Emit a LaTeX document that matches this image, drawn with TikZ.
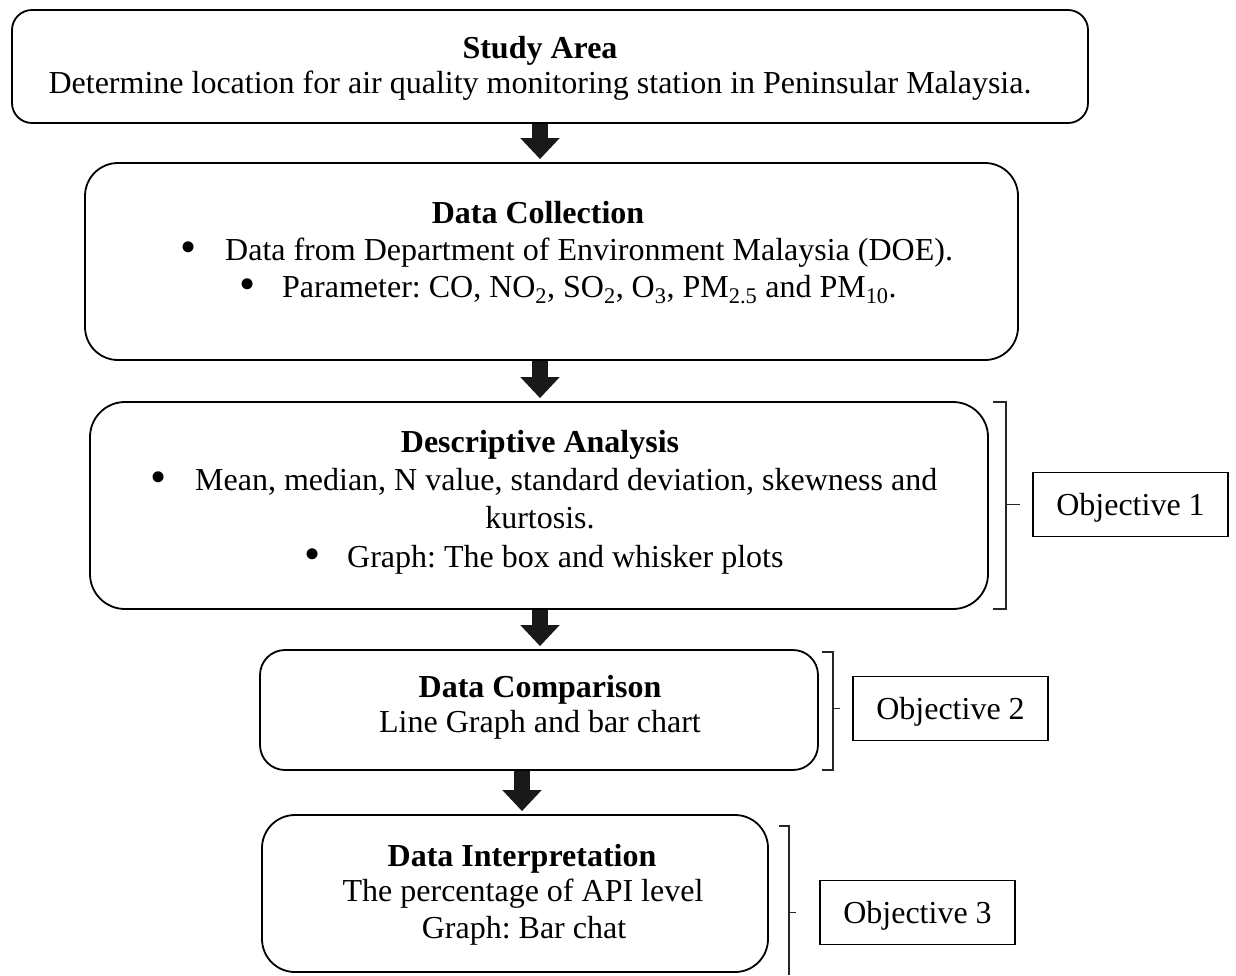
\documentclass[tikz,border=0pt]{standalone}
\usepackage{fontspec}
\setmainfont{Liberation Serif}
\usetikzlibrary{arrows.meta}
\frenchspacing
\newcommand{\bigbul}{\raisebox{-2.5pt}{\fontsize{46}{0}\selectfont\textbullet}}

\begin{document}
\begin{tikzpicture}[
  x=1pt, y=-1pt,
  box/.style   ={draw=black, line width=1.8pt, inner sep=0pt},
  objbox/.style={draw=black, line width=1.8pt, inner sep=0pt,
                 minimum width=195pt, minimum height=64pt},
  ttl/.style   ={anchor=base, inner sep=0pt, font=\fontsize{32}{38}\selectfont\bfseries},
  txt/.style   ={anchor=base, inner sep=0pt, font=\fontsize{32}{38}\selectfont},
  bul/.style   ={anchor=base west, inner sep=0pt, font=\fontsize{32}{38}\selectfont},
  bigarrow/.style={-{Triangle[width=38pt,length=21pt]}, line width=16pt, black!90,
                 shorten >=3pt},
  brk/.style   ={line width=1.1pt, black!85},
]
\useasboundingbox (0,0) rectangle (1236,975);

% ---------------- the five stages ----------------
\node[box, rounded corners=20pt, minimum width=1076pt, minimum height=113pt] (area)    at (550,66.5) {};
\node[box, rounded corners=33pt, minimum width=933pt,  minimum height=197pt] (collect) at (551.5,261.5) {};
\node[box, rounded corners=35pt, minimum width=898pt,  minimum height=207pt] (descr)   at (539,505.5) {};
\node[box, rounded corners=25pt, minimum width=558pt,  minimum height=120pt] (compare) at (539,710) {};
\node[box, rounded corners=33pt, minimum width=506pt,  minimum height=157pt] (interp)  at (515,893.5) {};

% ---------------- texts in the stages ----------------
\node[ttl] (areat) at (540,58) {Study Area};
\node[txt] at (540,93) {Determine location for air quality monitoring station in Peninsular Malaysia.};

\node[ttl] (collectt) at (538,223) {Data Collection};
\node[bul] at (180,260) {\makebox[45pt][l]{\bigbul}Data from Department of Environment Malaysia (DOE).};
\node[bul] at (239,297) {\makebox[43pt][l]{\bigbul}Parameter: CO, NO\textsubscript{2}, SO\textsubscript{2}, O\textsubscript{3}, PM\textsubscript{2.5} and PM\textsubscript{10}.};

\node[ttl] (descrt) at (540,452) {Descriptive Analysis};
\node[bul] at (150,490) {\makebox[45pt][l]{\bigbul}Mean, median, N value, standard deviation, skewness and};
\node[txt] at (540,528) {kurtosis.};
\node[bul] at (304,567) {\makebox[43pt][l]{\bigbul}Graph: The box and whisker plots};

\node[ttl] (comparet) at (540,697) {Data Comparison};
\node[txt] at (540,732) {Line Graph and bar chart};

\node[ttl] (interpt) at (522,866) {Data Interpretation};
\node[txt] at (523,901) {The percentage of API level};
\node[txt] at (524,938) {Graph: Bar chat};

% ---------------- block arrows between stages ----------------
\draw[bigarrow] (area.south -| areat)       -- (collect.north -| areat);
\draw[bigarrow] (collect.south -| areat)    -- (descr.north -| areat);
\draw[bigarrow] (descr.south -| areat)      -- (compare.north -| areat);
\draw[bigarrow] (compare.south -| interpt)  -- (interp.north -| interpt);

% ---------------- objectives ----------------
\node[objbox] (obj1) at (1130.5,504.5) {};
\node[txt] at ([yshift=-11pt]obj1.center) {Objective 1};
\node[objbox] (obj2) at (950.5,708.5) {};
\node[txt] at ([yshift=-11pt]obj2.center) {Objective 2};
\node[objbox] (obj3) at (917.5,912.5) {};
\node[txt] at ([yshift=-11pt]obj3.center) {Objective 3};

% ---------------- brackets ----------------
\coordinate (b1t) at (1006,402);
\coordinate (b1b) at (1006,609);
\draw[brk] ([xshift=-13pt]b1t) -- (b1t) -- (b1b) -- ([xshift=-13pt]b1b);
\draw[brk] (b1t |- obj1.west) -- ++(14,0);

\coordinate (b2t) at (833,652);
\coordinate (b2b) at (833,770);
\draw[brk] ([xshift=-11pt]b2t) -- (b2t) -- (b2b) -- ([xshift=-11pt]b2b);
\draw[brk] (b2t |- obj2.west) -- ++(7,0);

\coordinate (b3t) at (789,826);
\coordinate (b3b) at (789,975);
\draw[brk] ([xshift=-10pt]b3t) -- (b3t) -- (b3b);
\draw[brk] (b3t |- obj3.west) -- ++(7,0);

\end{tikzpicture}
\end{document}
